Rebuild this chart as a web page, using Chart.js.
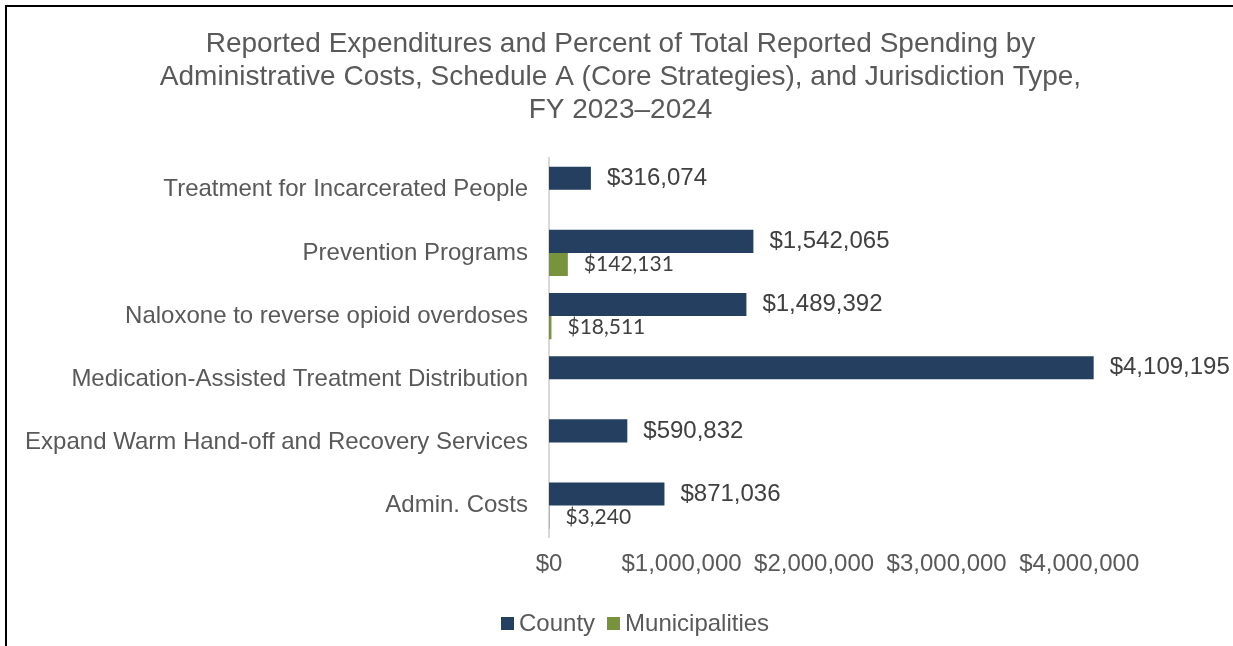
<!DOCTYPE html>
<html>
<head>
<meta charset="utf-8">
<script src="https://cdn.jsdelivr.net/npm/chart.js@4.4.1/dist/chart.umd.min.js"></script>
<style>
  html, body { margin: 0; padding: 0; background: #fff; overflow: hidden; }
  #frame { position: absolute; left: 5px; top: 5px; width: 1300px; height: 700px; border: 2px solid #000; box-sizing: border-box; }
  #wrap { position: absolute; left: 0; top: 0; width: 1233px; height: 646px; }
  #legend { position: absolute; left: 501px; top: 608px; height: 30px; display: flex; align-items: center;
            font: 24px 'Liberation Sans', Arial, sans-serif; color: #595959; line-height: 30px; white-space: nowrap; }
  #legend .item { display: flex; align-items: center; margin-right: 12px; }
  #legend .box { width: 13px; height: 13px; margin-right: 5px; }
</style>
</head>
<body>
<div id="frame"></div>
<div id="wrap"><canvas id="chart"></canvas></div>
<div id="legend"></div>
<script>
const titleLines = [
    "Reported Expenditures and Percent of Total Reported Spending by",
    "Administrative Costs, Schedule A (Core Strategies), and Jurisdiction Type,",
    "FY 2023\u20132024"
];
const categories = [
    "Treatment for Incarcerated People",
    "Prevention Programs",
    "Naloxone to reverse opioid overdoses",
    "Medication-Assisted Treatment Distribution",
    "Expand Warm Hand-off and Recovery Services",
    "Admin. Costs"
];
const countyValues = [316074, 1542065, 1489392, 4109195, 590832, 871036];
const municipalValues = [0, 142131, 18511, 0, 0, 3240];
const xTickValues = [0, 1000000, 2000000, 3000000, 4000000];

const money = v => "$" + Number(v).toLocaleString("en-US");
const arial = "'Liberation Sans', Arial, sans-serif";

// value labels to the right of each bar
const barLabels = {
    id: "barLabels",
    afterDatasetsDraw(chart) {
        const ctx = chart.ctx;
        chart.data.datasets.forEach((ds, i) => {
            const meta = chart.getDatasetMeta(i);
            meta.data.forEach((bar, j) => {
                const v = ds.data[j];
                if (!v) return;
                ctx.save();
                ctx.font = ds.labelFont;
                ctx.fillStyle = "#404040";
                ctx.textAlign = "left";
                ctx.textBaseline = "middle";
                ctx.fillText(money(v), bar.x + 16, bar.y);
                ctx.restore();
            });
        });
    }
};

Chart.defaults.font.family = arial;
Chart.defaults.color = "#595959";

const chart = new Chart(document.getElementById("chart").getContext("2d"), {
    type: "bar",
    data: {
        labels: categories,
        datasets: [{
            label: "County",
            data: countyValues,
            backgroundColor: "#243F60",
            labelFont: "24px " + arial
        }, {
            label: "Municipalities",
            data: municipalValues,
            backgroundColor: "#77933C",
            labelFont: "21px Lato, 'Open Sans', sans-serif"
        }]
    },
    options: {
        indexAxis: "y",
        responsive: true,
        maintainAspectRatio: false,
        animation: false,
        categoryPercentage: 0.73,
        barPercentage: 1,
        layout: { padding: { left: 16, right: 8, top: 0, bottom: 54 } },
        scales: {
            x: {
                min: 0,
                max: 5100000,
                grid: { display: false, drawTicks: false },
                border: { display: false },
                afterBuildTicks: scale => {
                    scale.ticks = xTickValues.map(v => ({ value: v }));
                },
                ticks: {
                    padding: 13,
                    maxRotation: 0,
                    autoSkip: false,
                    font: { size: 24 },
                    color: "#595959",
                    callback: v => money(v)
                }
            },
            y: {
                grid: { display: false, drawTicks: false },
                border: { color: "#d9d9d9", width: 2 },
                afterFit: scale => { scale.width = 549 - 16; },
                ticks: {
                    padding: 21,
                    font: { size: 24 },
                    color: "#595959"
                }
            }
        },
        plugins: {
            title: {
                display: true,
                text: titleLines,
                color: "#595959",
                font: { size: 28, weight: "normal", lineHeight: 1.18 },
                padding: { top: 28, bottom: 31 }
            },
            legend: { display: false },
            tooltip: { enabled: false }
        }
    },
    plugins: [barLabels]
});

// legend below the chart, built from the datasets
const legendEl = document.getElementById("legend");
chart.data.datasets.forEach(ds => {
    const item = document.createElement("span");
    item.className = "item";
    const box = document.createElement("span");
    box.className = "box";
    box.style.background = ds.backgroundColor;
    item.appendChild(box);
    item.appendChild(document.createTextNode(ds.label));
    legendEl.appendChild(item);
});
</script>
</body>
</html>
